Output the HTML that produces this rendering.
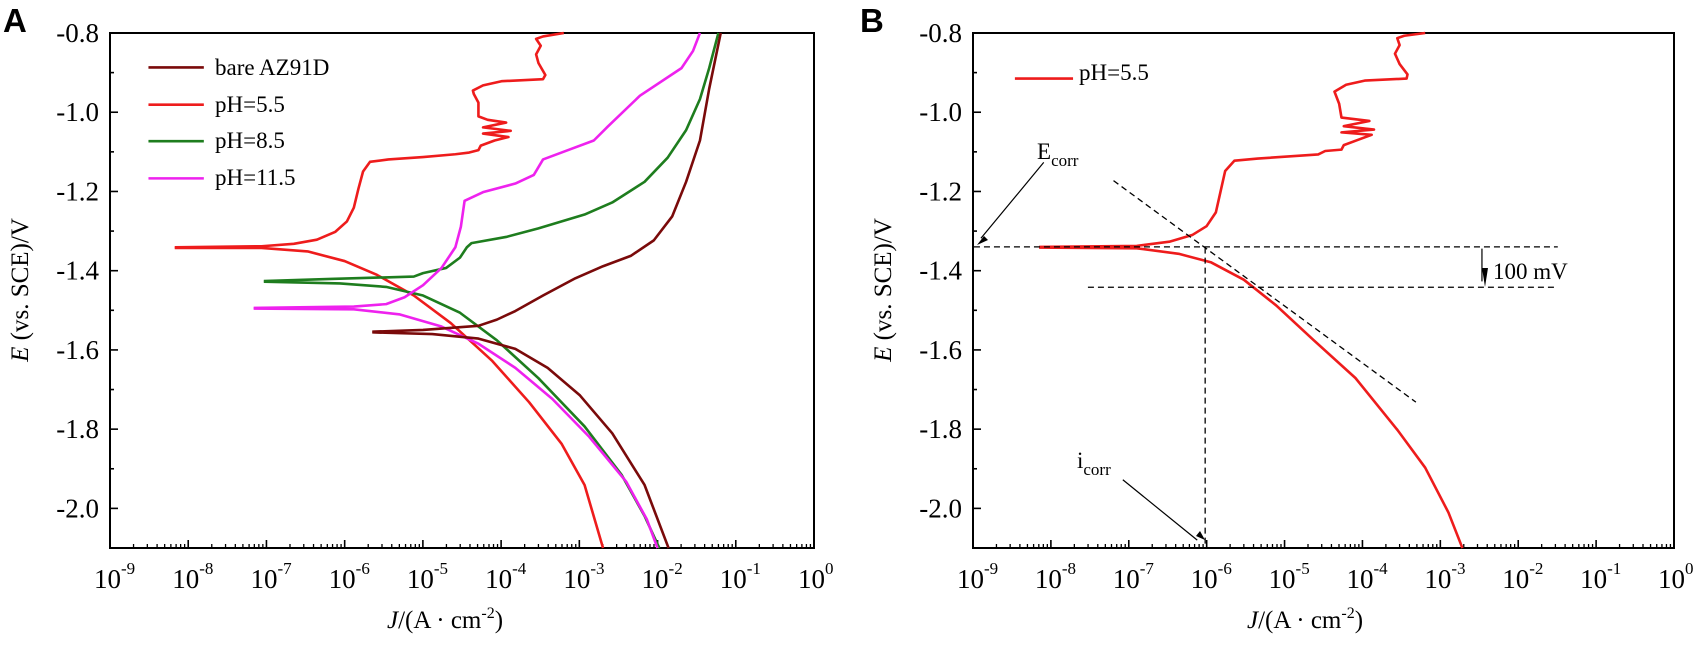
<!DOCTYPE html>
<html><head><meta charset="utf-8"><style>
html,body{margin:0;padding:0;background:#fff;width:1697px;height:649px;overflow:hidden}
svg{display:block}
text{font-family:"Liberation Serif",serif;fill:#000}
</style></head><body>
<svg id="s" width="1697" height="649" viewBox="0 0 1697 649" xmlns="http://www.w3.org/2000/svg">
<text x="3" y="32" style="font-family:'Liberation Sans',sans-serif;font-weight:bold;font-size:33px">A</text>
<text x="860" y="32" style="font-family:'Liberation Sans',sans-serif;font-weight:bold;font-size:33px">B</text>
<g id="axes"></g>
<!-- Panel A curves -->
<g transform="translate(100,19.91) scale(0.4615,0.3445)" fill="none" stroke-width="2.6" stroke-linejoin="round">
<polyline vector-effect="non-scaling-stroke" stroke="#ee1c1c" points="162,660 350,657 420,650 470,638 510,615 535,585 550,545 560,490 570,440 585,412 625,405 700,398 770,390 800,385 820,378 825,365 855,350 885,340 830,330 890,322 830,312 880,298 840,290 820,280 820,240 810,215 808,205 830,190 870,178 960,172 965,160 950,125 945,100 955,75 945,55 960,48 1005,38"/>
<polyline vector-effect="non-scaling-stroke" stroke="#ee1c1c" points="162,662 350,662 450,672 530,700 600,740 680,800 760,880 850,990 930,1110 1000,1230 1050,1350 1090,1533"/>
<polyline vector-effect="non-scaling-stroke" stroke="#1e7d1e" points="355,758 500,752 680,745 700,735 750,720 780,690 795,660 805,648 880,630 950,605 1050,565 1110,530 1180,470 1230,400 1270,320 1300,230 1320,140 1340,38"/>
<polyline vector-effect="non-scaling-stroke" stroke="#1e7d1e" points="355,760 520,765 620,775 700,800 780,850 860,930 950,1040 1050,1180 1130,1320 1180,1440 1212,1533"/>
<polyline vector-effect="non-scaling-stroke" stroke="#ee22ee" points="333,836 550,832 620,825 660,805 700,770 740,720 770,660 782,600 790,525 830,500 900,475 940,450 960,405 1010,380 1070,350 1100,310 1170,220 1260,140 1285,90 1300,38"/>
<polyline vector-effect="non-scaling-stroke" stroke="#ee22ee" points="333,838 550,840 650,855 740,890 820,940 900,1010 980,1100 1060,1210 1140,1340 1185,1450 1208,1533"/>
<polyline vector-effect="non-scaling-stroke" stroke="#7a0a0a" points="590,905 700,900 820,888 860,870 900,845 960,800 1030,750 1090,715 1150,685 1200,640 1240,570 1270,470 1300,350 1320,200 1345,38"/>
<polyline vector-effect="non-scaling-stroke" stroke="#7a0a0a" points="590,907 720,912 820,925 900,955 970,1010 1040,1090 1110,1200 1180,1350 1232,1533"/>
<line vector-effect="non-scaling-stroke" stroke="#7a0a0a" x1="105" y1="138" x2="225" y2="138"/>
<line vector-effect="non-scaling-stroke" stroke="#ee1c1c" x1="105" y1="246" x2="225" y2="246"/>
<line vector-effect="non-scaling-stroke" stroke="#1e7d1e" x1="105" y1="352" x2="225" y2="352"/>
<line vector-effect="non-scaling-stroke" stroke="#ee22ee" x1="105" y1="460" x2="225" y2="460"/>
</g>
<g style="font-size:23px">
<text x="215" y="75">bare AZ91D</text>
<text x="215" y="112">pH=5.5</text>
<text x="215" y="148">pH=8.5</text>
<text x="215" y="185">pH=11.5</text>
</g>
<!-- Panel B -->
<g transform="translate(960,19.2) scale(0.4652,0.345)" fill="none" stroke-linejoin="round">
<polyline vector-effect="non-scaling-stroke" stroke="#ee1c1c" stroke-width="2.6" points="170,660 380,657 450,645 500,625 530,600 550,560 560,500 570,440 590,410 640,404 770,392 785,382 820,378 825,365 855,350 885,335 820,328 890,320 825,310 880,295 820,285 815,245 805,210 830,190 870,178 960,172 962,160 945,130 935,100 945,75 940,55 955,48 1000,40"/>
<polyline vector-effect="non-scaling-stroke" stroke="#ee1c1c" stroke-width="2.6" points="170,662 380,664 470,680 540,705 610,755 680,830 760,930 850,1040 940,1190 1000,1300 1050,1430 1080,1533"/>
<line vector-effect="non-scaling-stroke" stroke="#ee1c1c" stroke-width="2.6" x1="118" y1="172" x2="243" y2="172"/>
<g stroke="#000" stroke-width="1.3" stroke-dasharray="6,4">
<line vector-effect="non-scaling-stroke" x1="30" y1="660" x2="1285" y2="660"/>
<line vector-effect="non-scaling-stroke" x1="275" y1="777" x2="1285" y2="777"/>
<line vector-effect="non-scaling-stroke" x1="527" y1="662" x2="527" y2="1530"/>
<line vector-effect="non-scaling-stroke" x1="330" y1="468" x2="980" y2="1110"/>
</g>
<g stroke="#000" stroke-width="1.2">
<line vector-effect="non-scaling-stroke" x1="1122" y1="665" x2="1122" y2="760"/>
<line vector-effect="non-scaling-stroke" x1="180" y1="415" x2="45" y2="635"/>
<line vector-effect="non-scaling-stroke" x1="350" y1="1335" x2="510" y2="1510"/>
</g>
</g>
<polygon points="1482,268 1488,268 1485,287" fill="#000"/>
<polygon points="977,245 984,236 988,240" fill="#000"/>
<polygon points="1205,540 1196,536 1200,531" fill="#000"/>
<g style="font-size:23px">
<text x="1079" y="80">pH=5.5</text>
<text x="1493" y="279">100 mV</text>
<text x="1037" y="159">E<tspan style="font-size:17px" dy="7">corr</tspan></text>
<text x="1077" y="468">i<tspan style="font-size:17px" dy="7">corr</tspan></text>
</g>
</svg>
<script>
(function(){
var ns="http://www.w3.org/2000/svg",g=document.getElementById("axes");
function el(t,a,txt){var e=document.createElementNS(ns,t);for(var k in a)e.setAttribute(k,a[k]);if(txt!=null)e.textContent=txt;g.appendChild(e);return e;}
function panel(L,R,T,B,cx){
 el("rect",{x:L,y:T,width:R-L,height:B-T,fill:"none",stroke:"#000","stroke-width":2});
 var dec=(R-L)/9,yper=(B-T)/1.3;
 for(var d=0;d<=9;d++){
  var x=L+d*dec;
  el("line",{x1:x,y1:B,x2:x,y2:B-8,stroke:"#000","stroke-width":1.6});
  var t=el("text",{x:x-16,y:588,"text-anchor":"start","font-size":"27px"});
  t.innerHTML='10<tspan font-size="17px" dy="-14">'+(d-9)+'</tspan>';
  if(d<9)for(var m=2;m<=9;m++){var xm=x+Math.log10(m)*dec;el("line",{x1:xm,y1:B,x2:xm,y2:B-4,stroke:"#000","stroke-width":1.3});}
 }
 for(var i=0;i<=13;i++){
  var y=T+i*yper*0.1,maj=(i%2==0);
  el("line",{x1:L,y1:y,x2:L+(maj?8:4),y2:y,stroke:"#000","stroke-width":1.6});
  if(maj&&i<=12)el("text",{x:L-11,y:y+9,"text-anchor":"end","font-size":"27px"},(-0.8-i*0.1).toFixed(1));
 }
 var yt=el("text",{x:0,y:0,"text-anchor":"middle","font-size":"25px",transform:"translate("+(L-82)+",290) rotate(-90)"});
 yt.innerHTML='<tspan font-style="italic">E</tspan> (vs. SCE)/V';
 var xt=el("text",{x:cx,y:628,"text-anchor":"middle","font-size":"25px"});
 xt.innerHTML='<tspan font-style="italic">J</tspan>/(A · cm<tspan font-size="16px" dy="-10">-2</tspan><tspan dy="10">)</tspan>';
}
panel(110,814,33,548,445);
panel(973,1674,33,548,1305);
})();
</script>
</body></html>
